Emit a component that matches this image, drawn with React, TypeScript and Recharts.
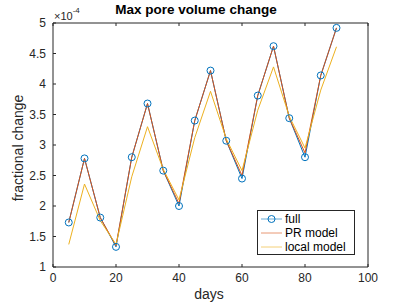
import React from "react";
import { LineChart, Line, XAxis, YAxis } from "recharts";

const days = [5, 10, 15, 20, 25, 30, 35, 40, 45, 50, 55, 60, 65, 70, 75, 80, 85, 90];
const full = [1.73, 2.78, 1.81, 1.33, 2.8, 3.68, 2.58, 2.0, 3.4, 4.22, 3.07, 2.45, 3.81, 4.62, 3.44, 2.8, 4.14, 4.92];
const prModel = [1.73, 2.78, 1.81, 1.35, 2.8, 3.68, 2.58, 2.04, 3.4, 4.22, 3.07, 2.5, 3.81, 4.62, 3.44, 2.87, 4.14, 4.92];
const localModel = [1.37, 2.36, 1.76, 1.37, 2.48, 3.3, 2.6, 2.1, 3.12, 3.88, 3.1, 2.58, 3.57, 4.28, 3.47, 2.95, 3.9, 4.61];

const xTicks = [0, 20, 40, 60, 80, 100];
const yTicks = [1, 1.5, 2, 2.5, 3, 3.5, 4, 4.5, 5];

const data = days.map((d, i) => ({
  day: d,
  full: full[i],
  pr: prModel[i],
  local: localModel[i],
}));

const BLUE = "#0072BD";
const RED = "#D95319";
const YELLOW = "#EDB120";
const AX = "#262626";
const FONT = "'Liberation Sans', Arial, Helvetica, sans-serif";

const BottomTick = (props: any) => {
  const { x, y, payload } = props;
  return (
    <g>
      <line x1={x} y1={y} x2={x} y2={y - 3} stroke={AX} />
      <text x={x} y={y + 15} textAnchor="middle" fill={AX} fontSize={12} fontFamily={FONT}>
        {payload.value}
      </text>
    </g>
  );
};

const TopTick = (props: any) => {
  const { x, y } = props;
  return <line x1={x} y1={y} x2={x} y2={y + 3} stroke={AX} />;
};

const LeftTick = (props: any) => {
  const { x, y, payload } = props;
  return (
    <g>
      <line x1={x} y1={y} x2={x + 3} y2={y} stroke={AX} />
      <text x={x - 7} y={y + 4} textAnchor="end" fill={AX} fontSize={12} fontFamily={FONT}>
        {payload.value}
      </text>
    </g>
  );
};

const RightTick = (props: any) => {
  const { x, y } = props;
  return <line x1={x} y1={y} x2={x - 3} y2={y} stroke={AX} />;
};

const LegendBox = () => {
  const rows = [
    { label: "full", color: BLUE, marker: true },
    { label: "PR model", color: RED, marker: false },
    { label: "local model", color: YELLOW, marker: false },
  ];
  return (
    <svg width={99} height={46} style={{ display: "block" }}>
      <rect x={0.5} y={0.5} width={97} height={44} fill="#fff" stroke={AX} strokeWidth={1} />
      {rows.map((r, i) => {
        const cy = 9 + i * 14;
        return (
          <g key={r.label}>
            <line x1={4} y1={cy} x2={25} y2={cy} stroke={r.color} strokeOpacity={0.6} strokeWidth={1} />
            {r.marker && <circle cx={14.5} cy={cy} r={3.5} fill="none" stroke={r.color} />}
            <text x={28} y={cy + 4} fontSize={12} fontFamily={FONT} fill="#000">
              {r.label}
            </text>
          </g>
        );
      })}
    </svg>
  );
};

export default function App() {
  return (
    <div style={{ position: "fixed", left: 0, top: 0, width: 407, height: 305, background: "#fff" }}>
      <LineChart
        width={407}
        height={305}
        data={data}
        margin={{ top: 22, right: 38, bottom: 18, left: 13 }}
      >
        <XAxis
          dataKey="day"
          type="number"
          domain={[0, 100]}
          ticks={xTicks}
          height={20}
          tickSize={0}
          tickMargin={0}
          tickLine={false}
          tick={<BottomTick />}
          axisLine={{ stroke: AX }}
          interval={0}
        />
        <XAxis
          xAxisId="top"
          orientation="top"
          dataKey="day"
          type="number"
          domain={[0, 100]}
          ticks={xTicks}
          height={1}
          tickSize={0}
          tickMargin={0}
          tickLine={false}
          tick={<TopTick />}
          axisLine={{ stroke: AX }}
          interval={0}
        />
        <YAxis
          type="number"
          domain={[1, 5]}
          ticks={yTicks}
          width={40}
          tickSize={0}
          tickMargin={0}
          tickLine={false}
          tick={<LeftTick />}
          axisLine={{ stroke: AX }}
          interval={0}
        />
        <YAxis
          yAxisId="right"
          orientation="right"
          type="number"
          domain={[1, 5]}
          ticks={yTicks}
          width={1}
          tickSize={0}
          tickMargin={0}
          tickLine={false}
          tick={<RightTick />}
          axisLine={{ stroke: AX }}
          interval={0}
        />
        <Line
          type="linear"
          dataKey="full"
          stroke={BLUE}
          strokeWidth={1}
          dot={{ r: 3.5, fill: "none", stroke: BLUE, strokeWidth: 1 }}
          isAnimationActive={false}
        />
        <Line type="linear" dataKey="pr" stroke={RED} strokeWidth={1} dot={false} isAnimationActive={false} />
        <Line type="linear" dataKey="local" stroke={YELLOW} strokeWidth={1} dot={false} isAnimationActive={false} />
      </LineChart>
      <div style={{ position: "absolute", left: 257, top: 210 }}>
        <LegendBox />
      </div>
      <div
        style={{
          position: "absolute",
          left: 0,
          top: 2,
          width: 392,
          textAlign: "center",
          fontFamily: FONT,
          fontWeight: "bold",
          fontSize: 13.5,
          color: "#000",
        }}
      >
        Max pore volume change
      </div>
      <div style={{ position: "absolute", left: 54, top: 8, fontFamily: FONT, fontSize: 11, color: AX, whiteSpace: "nowrap" }}>
        ×10<sup style={{ fontSize: 8, position: "relative", top: -2 }}>-4</sup>
      </div>
      <div
        style={{
          position: "absolute",
          left: 18,
          top: 148,
          transform: "translate(-50%, -50%) rotate(-90deg)",
          fontFamily: FONT,
          fontSize: 14,
          color: AX,
          whiteSpace: "nowrap",
        }}
      >
        fractional change
      </div>
      <div
        style={{
          position: "absolute",
          left: 209,
          top: 286,
          transform: "translateX(-50%)",
          fontFamily: FONT,
          fontSize: 14,
          color: AX,
          whiteSpace: "nowrap",
        }}
      >
        days
      </div>
    </div>
  );
}
